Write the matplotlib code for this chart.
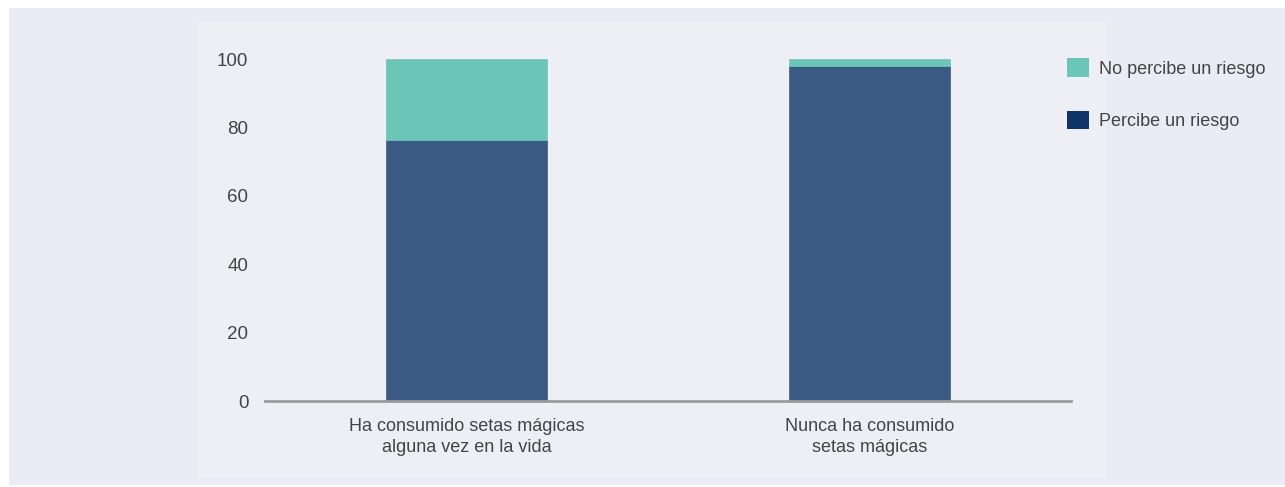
import matplotlib
matplotlib.use("Agg")
import matplotlib.pyplot as plt
from matplotlib.patches import Rectangle, Patch

plt.rcParams['font.family'] = ['Liberation Sans', 'DejaVu Sans']

categories = ["Ha consumido setas mágicas\nalguna vez en la vida",
              "Nunca ha consumido\nsetas mágicas"]
percibe = [76.3, 98.0]
no_percibe = [23.7, 2.0]
series_names = ["No percibe un riesgo", "Percibe un riesgo"]
yticks = [0, 20, 40, 60, 80, 100]

W, H = 1285, 487
fig = plt.figure(figsize=(W / 100, H / 100), dpi=100, facecolor="white")

def px_rect(x0, y0, x1, y1, color):
    fig.patches.append(Rectangle((x0 / W, 1 - y1 / H), (x1 - x0) / W, (y1 - y0) / H,
                                 transform=fig.transFigure, facecolor=color,
                                 edgecolor="none", zorder=-10))

px_rect(9, 8, 1285, 485, "#e9ecf4")
px_rect(197, 21, 1107, 478, "#eeeff5")

ax_l, ax_r, ax_t, ax_b = 265, 1071, 59, 401
ax = fig.add_axes([ax_l / W, 1 - ax_b / H, (ax_r - ax_l) / W, (ax_b - ax_t) / H])
ax.set_facecolor("none")

x = list(range(len(categories)))
ax.bar(x, percibe, width=0.4, color="#3b5a83", edgecolor="#3b5a83", linewidth=0.5, zorder=2)
ax.bar(x, no_percibe, bottom=percibe, width=0.4, color="#6bc6b8", edgecolor="#6bc6b8", linewidth=0.5, zorder=2)

ax.set_xlim(-0.5, 1.5)
ax.set_ylim(0, 100)
ax.set_yticks(yticks)
ax.set_yticklabels([str(v) for v in yticks])
ax.set_xticks(x)
ax.set_xticklabels(categories)
for s in ["top", "right", "left"]:
    ax.spines[s].set_visible(False)
ax.spines["bottom"].set_color("#9b9b9b")
ax.spines["bottom"].set_linewidth(2)
ax.spines["bottom"].set_zorder(3)
ax.tick_params(axis="both", length=0, colors="#444444")
ax.tick_params(axis="y", pad=12, labelsize=13.5)
ax.tick_params(axis="x", pad=12, labelsize=13)
for lab in ax.get_xticklabels():
    lab.set_linespacing(1.35)

handles = [Patch(facecolor="#6bc6b8", edgecolor="none"),
           Patch(facecolor="#0f3568", edgecolor="none")]
fig.legend(handles, series_names, loc="upper left",
           bbox_to_anchor=(1060 / W, 1 - 51 / H), frameon=False,
           fontsize=13, labelcolor="#444444", handlelength=1.2, handleheight=1.2,
           handletextpad=0.55, labelspacing=1.85, borderaxespad=0)

fig.savefig("out.png", dpi=100, facecolor="white")
